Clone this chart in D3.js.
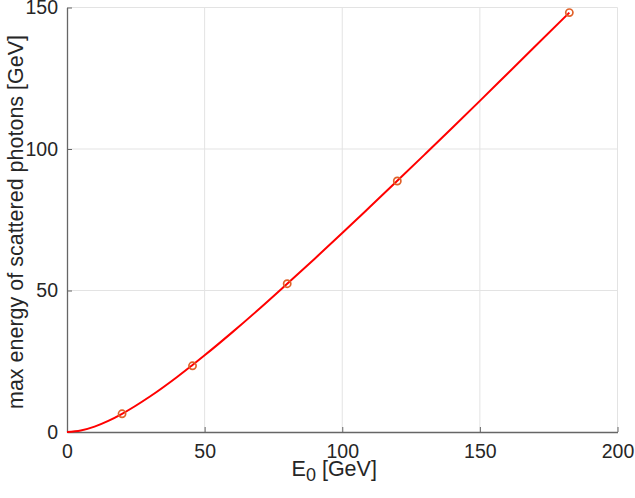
<!DOCTYPE html>
<html><head><meta charset="utf-8">
<script src="https://cdn.jsdelivr.net/npm/d3@7"></script>
<style>body{margin:0;background:#fff}svg{display:block}text{font-family:"Liberation Sans",Arial,sans-serif;fill:#262626}</style>
</head><body><svg id="c" width="635" height="498"></svg>
<script>
// curve
const curveE0 = [0, 5, 10, 15, 20, 30, 40, 45.6, 50, 60, 70, 80, 90, 100, 110, 120, 130, 140, 150, 160, 170, 182.5];
const curveEmax = [0, 0.53, 1.91, 3.93, 6.43, 12.46, 19.46, 23.7, 27.1, 35.2, 43.65, 52.4, 61.25, 70.3, 79.5, 88.75, 98.1, 107.5, 117.0, 126.6, 136.2, 148.2];
// marked points
const markE0 = [20, 45.6, 80, 120, 182.5];
const markEmax = [6.43, 23.4, 52.4, 88.7, 148.2];
const xTicks = [0, 50, 100, 150, 200];
const yTicks = [0, 50, 100, 150];

const svg = d3.select("#c");
const L = 67, R = 617.5, T = 7.5, B = 432;
const x = d3.scaleLinear().domain([0, 200]).range([L, R]);
const y = d3.scaleLinear().domain([0, 150]).range([B, T]);

// grid
svg.append("g").selectAll("line").data(xTicks.slice(1)).join("line")
  .attr("x1", d => x(d)).attr("x2", d => x(d)).attr("y1", T).attr("y2", B)
  .attr("stroke", "#e3e3e3").attr("stroke-width", 1);
svg.append("g").selectAll("line").data(yTicks.slice(1)).join("line")
  .attr("x1", L).attr("x2", R).attr("y1", d => y(d)).attr("y2", d => y(d))
  .attr("stroke", "#e3e3e3").attr("stroke-width", 1);

// axes
const fs = 19.5, lfs = 21.5;
const gx = svg.append("g").attr("transform", `translate(0,${B})`)
  .call(d3.axisBottom(x).tickValues(xTicks).tickSizeInner(-5).tickSizeOuter(0).tickPadding(12));
const gy = svg.append("g").attr("transform", `translate(${L},0)`)
  .call(d3.axisLeft(y).tickValues(yTicks).tickSizeInner(-5).tickSizeOuter(0).tickPadding(9));
[gx, gy].forEach(g => {
  g.select(".domain").attr("stroke", "#666").attr("stroke-width", 1.3);
  g.selectAll(".tick line").attr("stroke", "#666");
  g.selectAll(".tick text").attr("font-size", fs).attr("font-family", "Liberation Sans, Arial, sans-serif").attr("fill", "#262626");
});

// line
const line = d3.line().x((d, i) => x(curveE0[i])).y((d, i) => y(curveEmax[i])).curve(d3.curveMonotoneX);
svg.append("path").datum(curveEmax).attr("d", line)
  .attr("fill", "none").attr("stroke", "#ff0000").attr("stroke-width", 2);

// markers
svg.append("g").selectAll("circle").data(markE0).join("circle")
  .attr("cx", d => x(d)).attr("cy", (d, i) => y(markEmax[i])).attr("r", 3.6)
  .attr("fill", "none").attr("stroke", "#e0622a").attr("stroke-width", 1.7);

// labels
const xl = svg.append("text").attr("x", (L + R) / 2 - 8).attr("y", 476)
  .attr("text-anchor", "middle").attr("font-size", lfs);
xl.append("tspan").text("E");
xl.append("tspan").attr("dy", 5).attr("font-size", 18).text("0");
xl.append("tspan").attr("dy", -5).text(" [GeV]");

svg.append("text").attr("transform", `translate(22.5,222) rotate(-90)`)
  .attr("text-anchor", "middle").attr("font-size", lfs)
  .text("max energy of scattered photons [GeV]");
</script></body></html>
